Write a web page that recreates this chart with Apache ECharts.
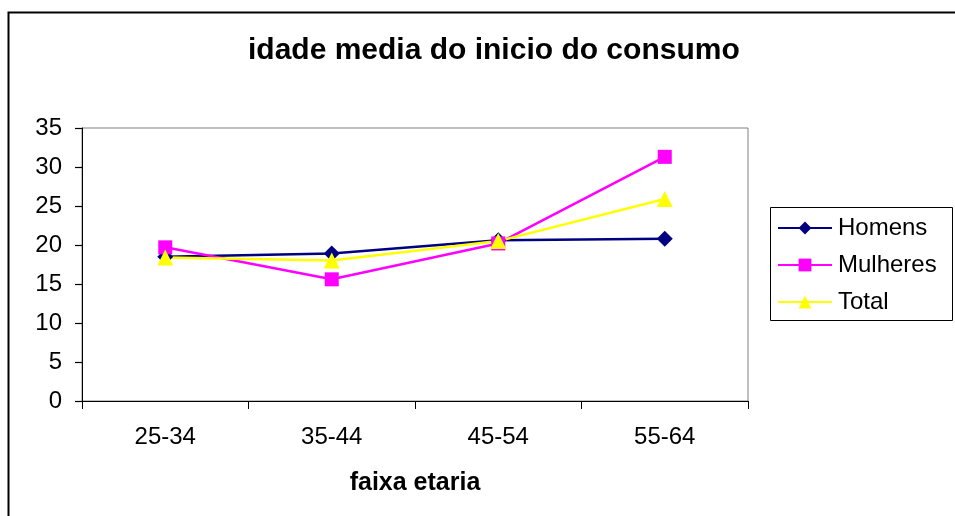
<!DOCTYPE html>
<html>
<head>
<meta charset="utf-8">
<script src="https://cdn.jsdelivr.net/npm/echarts@6/dist/echarts.min.js"></script>
<style>
html,body{margin:0;padding:0;background:#fff;}
#c{width:955px;height:516px;}
</style>
</head>
<body>
<div id="c"></div>
<script>
var categories = ['25-34', '35-44', '45-54', '55-64'];
var homens = [18.5, 18.9, 20.6, 20.8];
var mulheres = [19.7, 15.6, 20.2, 31.3];
var total = [18.4, 18.0, 20.5, 25.9];
var yTicks = [0, 35, 5];

var chart = echarts.init(document.getElementById('c'));
var font = 'Arial, "Liberation Sans", sans-serif';
chart.setOption({
  animation: false,
  backgroundColor: '#fff',
  title: {
    text: 'idade media do inicio do consumo',
    left: 243, top: 31,
    textStyle: {fontFamily: font, fontSize: 30, fontWeight: 'bold', color: '#000'}
  },
  graphic: [
    {type: 'rect', shape: {x: 8.5, y: 12.5, width: 960, height: 520}, style: {fill: null, stroke: '#000', lineWidth: 2}, silent: true},
    {type: 'rect', shape: {x: 770.5, y: 207.5, width: 182, height: 113}, style: {fill: null, stroke: '#000', lineWidth: 1}, silent: true}
  ],
  legend: {
    orient: 'vertical',
    left: 772, top: 211,
    itemWidth: 54, itemHeight: 16, itemGap: 13,
    textStyle: {fontFamily: font, fontSize: 24, color: '#000', lineHeight: 24, padding: [0, 0, 0, 1]},
    data: ['Homens', 'Mulheres', 'Total']
  },
  grid: {
    left: 82, right: 207, top: 128, bottom: 115,
    show: true, borderColor: '#808080', borderWidth: 1
  },
  xAxis: {
    type: 'category',
    data: categories,
    boundaryGap: true,
    name: 'faixa etaria',
    nameLocation: 'middle',
    nameGap: 70,
    nameTextStyle: {fontFamily: font, fontSize: 25, fontWeight: 'bold', color: '#000'},
    axisLine: {show: true, lineStyle: {color: '#000', width: 1}},
    axisTick: {show: true, inside: false, length: 8, alignWithLabel: false, lineStyle: {color: '#000', width: 1}},
    axisLabel: {fontFamily: font, fontSize: 24, color: '#000', margin: 24}
  },
  yAxis: {
    type: 'value',
    position: 'left',
    min: yTicks[0], max: yTicks[1], interval: yTicks[2],
    axisLine: {show: true, lineStyle: {color: '#000', width: 1}},
    axisTick: {show: true, inside: false, length: 7, lineStyle: {color: '#000', width: 1.2}},
    splitLine: {show: false},
    axisLabel: {fontFamily: font, fontSize: 24, color: '#000', margin: 20}
  },
  series: [
    {name: 'Homens', type: 'line', data: homens, symbol: 'diamond', symbolSize: 16,
     lineStyle: {color: '#000080', width: 2.5}, itemStyle: {color: '#000080'}},
    {name: 'Mulheres', type: 'line', data: mulheres, symbol: 'rect', symbolSize: 14,
     lineStyle: {color: '#FF00FF', width: 2.5}, itemStyle: {color: '#FF00FF'}},
    {name: 'Total', type: 'line', data: total, symbol: 'triangle', symbolSize: 16,
     lineStyle: {color: '#FFFF00', width: 2.5}, itemStyle: {color: '#FFFF00'}}
  ]
});
</script>
</body>
</html>
